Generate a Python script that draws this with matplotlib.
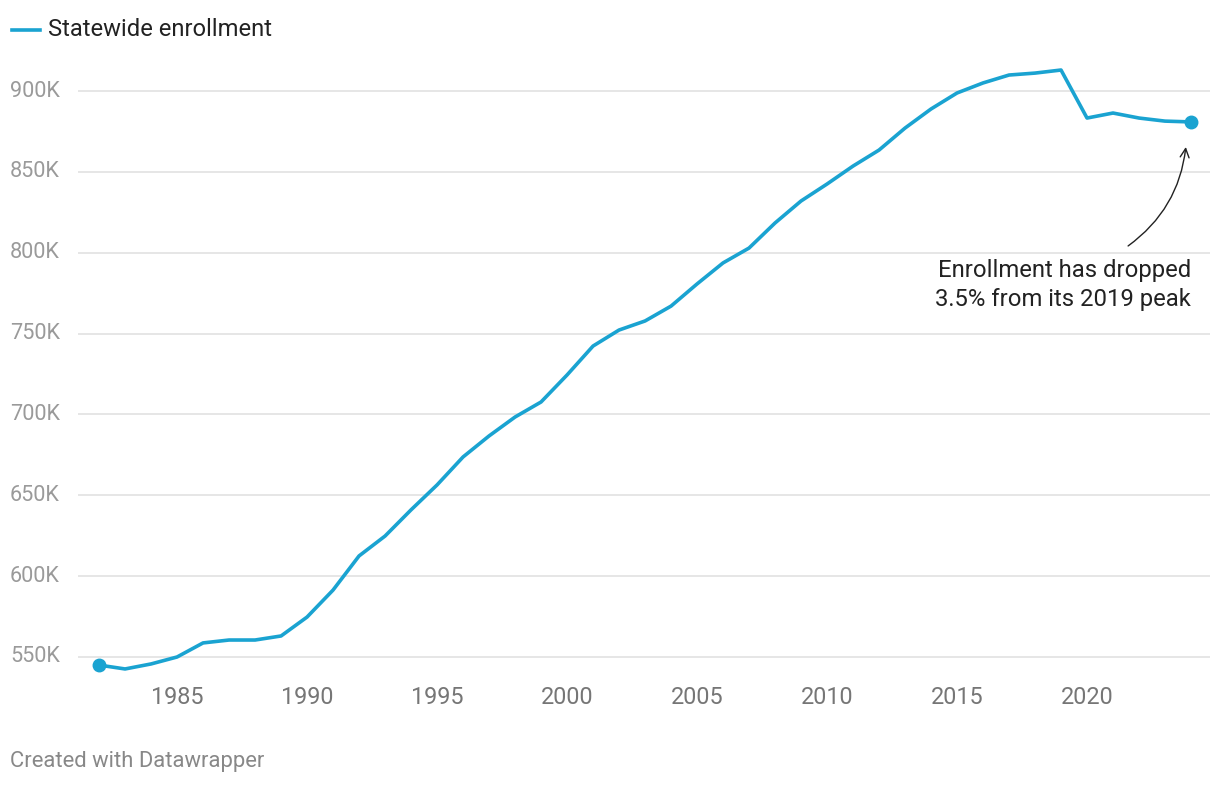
import matplotlib.pyplot as plt
import matplotlib.transforms as mtransforms

plt.rcParams['font.family'] = ['Roboto', 'DejaVu Sans']

# Statewide enrollment by year (thousands)
years = list(range(1982, 2025))
enrollment = [545.0, 542.6, 545.7, 550.0, 558.7, 560.5, 560.5, 563.0, 574.7, 591.4,
              612.5, 624.8, 641.0, 656.4, 673.7, 686.7, 698.4, 707.7, 724.4, 742.3,
              752.2, 757.8, 767.0, 780.7, 793.7, 802.9, 818.4, 832.0, 842.5, 853.6,
              863.5, 877.1, 888.9, 898.8, 905.0, 909.9, 911.1, 913.0, 883.3, 886.4,
              883.3, 881.4, 880.9]
y_ticks = [550, 600, 650, 700, 750, 800, 850, 900]
y_labels = ['550K', '600K', '650K', '700K', '750K', '800K', '850K', '900K']
x_ticks = [1985, 1990, 1995, 2000, 2005, 2010, 2015, 2020]

blue = '#1aa3d1'
W, H = 1220, 786

fig = plt.figure(figsize=(W / 100, H / 100), dpi=100)
ax = fig.add_axes([78 / W, 1 - 676.4 / H, (1210 - 78) / W, (676.4 - 58.7) / H])

ax.plot(years, enrollment, color=blue, lw=2.6, solid_joinstyle='round', zorder=3)
ax.plot([years[0], years[-1]], [enrollment[0], enrollment[-1]], 'o',
        color=blue, ms=9, zorder=4)

ax.set_xlim(1981.19, 2024.73)
ax.set_ylim(538, 920)
for s in ax.spines.values():
    s.set_visible(False)

ax.set_yticks(y_ticks)
ax.set_yticklabels([])
ax.tick_params(axis='y', length=0)
ax.grid(axis='y', color='#e2e2e2', lw=1.2)
ax.set_axisbelow(True)

# y labels left-aligned at the figure edge
trans = mtransforms.blended_transform_factory(fig.transFigure, ax.transData)
for v, lab in zip(y_ticks, y_labels):
    ax.text(10 / W, v, lab, transform=trans, ha='left', va='center',
            fontsize=15.6, color='#9a9a9a')

ax.set_xticks(x_ticks)
ax.set_xticklabels([str(x) for x in x_ticks], fontsize=16.8, color='#767676')
ax.tick_params(axis='x', length=0, pad=7)

# legend
fig.lines.append(plt.Line2D([12 / W, 40 / W], [1 - 30 / H, 1 - 30 / H],
                            transform=fig.transFigure, color=blue, lw=2.6))
fig.text(48 / W, 1 - 30 / H, 'Statewide enrollment', ha='left', va='center',
         fontsize=17.1, color='#222222')

# annotation
ax.annotate('', xy=(2023.8, 865.4), xytext=(2021.58, 804.2),
            arrowprops=dict(arrowstyle='->', color='#222222', lw=1,
                            connectionstyle='arc3,rad=0.22',
                            shrinkA=0, shrinkB=0, mutation_scale=16))
ax.text(2024.0, 796, 'Enrollment has dropped\n3.5% from its 2019 peak',
        ha='right', va='top', fontsize=17.2, color='#222222', linespacing=1.3)

fig.text(10 / W, 1 - 762 / H, 'Created with Datawrapper', ha='left', va='center',
         fontsize=15.8, color='#888888')

fig.savefig('out.png', dpi=100)
